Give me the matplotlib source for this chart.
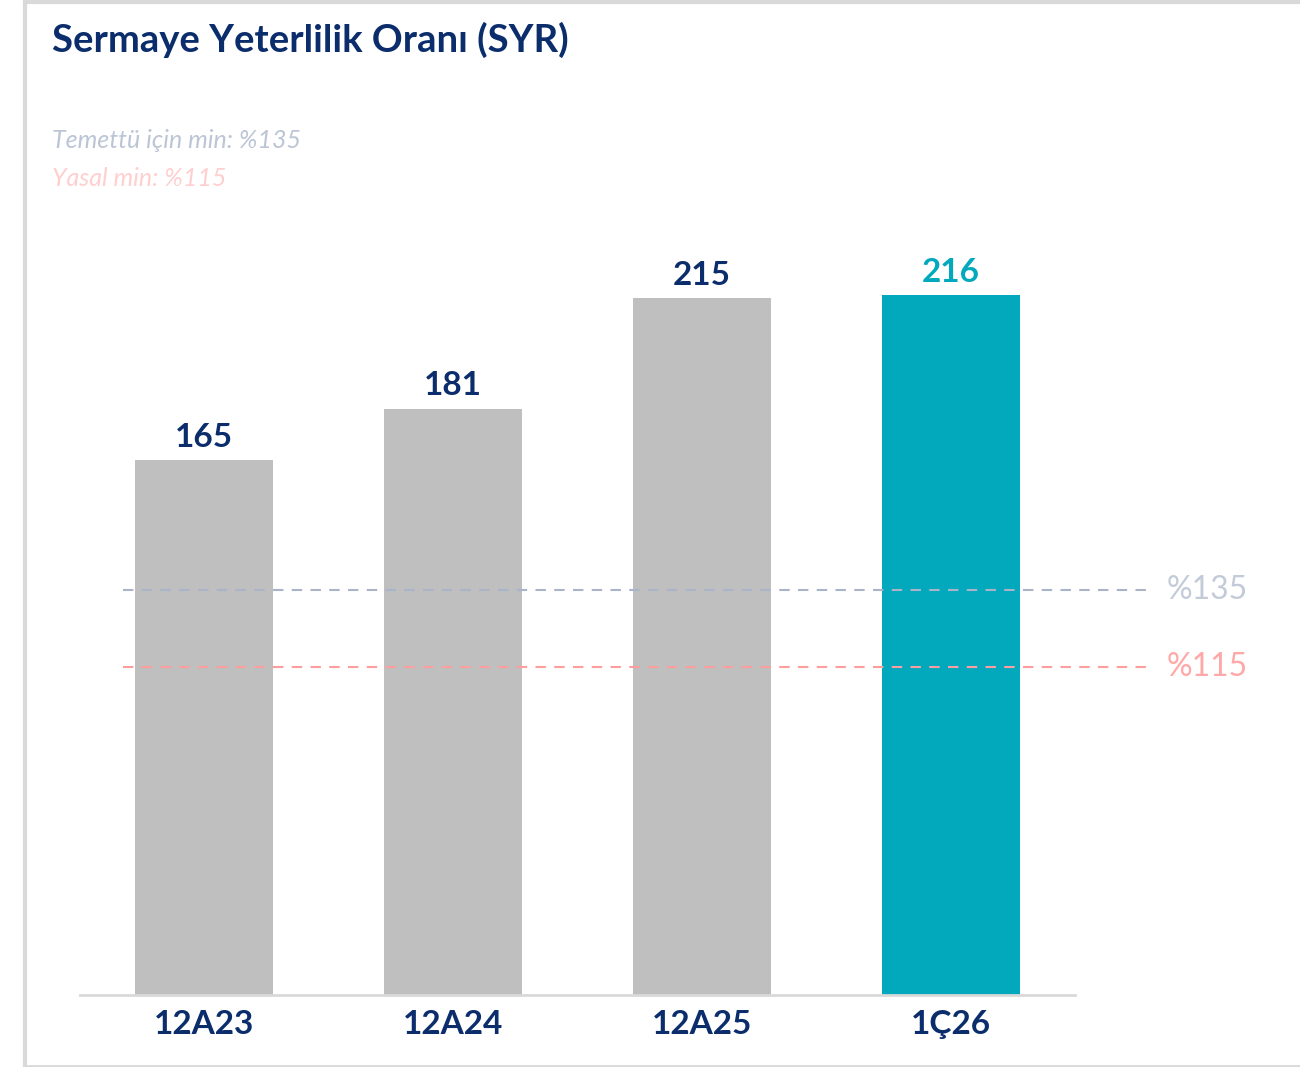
import matplotlib.pyplot as plt
from matplotlib.lines import Line2D

plt.rcParams['font.family'] = ['Lato', 'DejaVu Sans']

# data
periods = ['12A23', '12A24', '12A25', '1Ç26']
syr = [165, 181, 215, 216]
thresholds = [135, 115]
threshold_labels = ['%135', '%115']
notes = ['Temettü için min: %135', 'Yasal min: %115']

navy = '#0B2D6B'
teal = '#02A9BD'
grey_bar = '#BFBFBF'
line_cols = ['#A9B4C8', '#FF9E9E']
text_cols = ['#C3CBD8', '#FFA8A8']
note_cols = ['#BCC5D5', '#FFCFCF']

W, H = 1300, 1067
fig = plt.figure(figsize=(W / 100, H / 100), dpi=100)
fig.patch.set_facecolor('white')

# frame of the slide box
border = '#D9D9D9'
fig.add_artist(Line2D([25 / W, 25 / W], [0, 1], color=border, lw=3))
fig.add_artist(Line2D([25 / W, 1], [1 - 1.5 / H, 1 - 1.5 / H], color=border, lw=3))
fig.add_artist(Line2D([25 / W, 1], [1.5 / H, 1.5 / H], color=border, lw=2))

ax = fig.add_axes([80 / W, 1 - 995 / H, 995 / W, 810 / H])
x = list(range(len(periods)))
colors = [grey_bar] * (len(periods) - 1) + [teal]
ax.bar(x, syr, width=0.555, color=colors, zorder=2)
ax.set_xlim(-0.5, 3.5)
ax.set_ylim(0, 250)

for xi, v, c in zip(x, syr, colors):
    lc = teal if c == teal else navy
    ax.annotate(str(v), (xi, v), xytext=(0, 6), textcoords='offset points',
                ha='center', va='bottom', fontsize=24, fontweight='bold', color=lc)

ax.set_xticks(x)
ax.set_xticklabels(periods, fontsize=24, fontweight='bold', color=navy)
ax.tick_params(axis='x', length=0, pad=11)
ax.set_yticks([])
for s in ['top', 'right', 'left']:
    ax.spines[s].set_visible(False)
ax.spines['bottom'].set_color('#D9D9D9')
ax.spines['bottom'].set_linewidth(2)

# threshold lines sit on their own (decorative) scale
ax2 = ax.twinx()
ax2.set_ylim(29.8, 240.2)
ax2.set_yticks([])
for s in ax2.spines.values():
    s.set_visible(False)
for t, lab, lc, tc in zip(thresholds, threshold_labels, line_cols, text_cols):
    ax2.plot([-0.326, 3.786], [t, t], color=lc, lw=1.5, ls=(0, (5, 4)),
             clip_on=False, zorder=3)
    ax2.text(3.87, t, lab, fontsize=23, color=tc, ha='left', va='center')

fig.text(52 / W, 1 - 40 / H, 'Sermaye Yeterlilik Oranı (SYR)', fontsize=27.5,
         fontweight='bold', color=navy, ha='left', va='center')
for i, (n, c) in enumerate(zip(notes, note_cols)):
    fig.text(52 / W, 1 - (141 + 37 * i) / H, n, fontsize=18, style='italic',
             color=c, ha='left', va='center')

fig.savefig('out.png', dpi=100, facecolor='white')
